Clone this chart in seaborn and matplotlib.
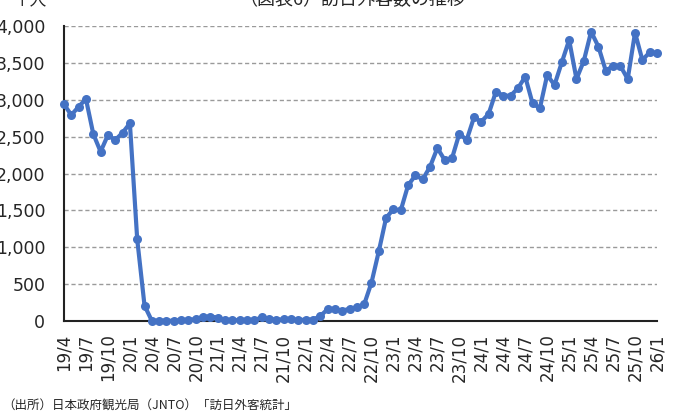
import pandas as pd
import matplotlib
matplotlib.use("Agg")
import matplotlib.pyplot as plt
import seaborn as sns

# monthly visitors to Japan (thousand people), 2019/4 - 2026/1
months = [p.strftime("%y/") + str(p.month) for p in pd.period_range("2019-04", "2026-01", freq="M")]
visitors = [
    2938, 2793, 2906, 3010, 2536, 2296, 2522, 2454, 2553,          # 19/4-19/12
    2680, 1108, 208, 3, 2, 3, 4, 9, 14, 27, 57, 59,                 # 20
    47, 7, 12, 11, 10, 9, 51, 26, 18, 22, 21, 12,                   # 21
    18, 17, 66, 160, 158, 140, 165, 186, 225, 520, 945, 1400,       # 22
    1515, 1500, 1840, 1975, 1921, 2092, 2345, 2183, 2206, 2540, 2454, 2760,  # 23
    2703, 2807, 3110, 3055, 3055, 3155, 3313, 2952, 2884, 3336, 3200, 3508,  # 24
    3810, 3281, 3525, 3923, 3720, 3394, 3458, 3458, 3281, 3910, 3539, 3643,  # 25
    3630,                                                           # 26/1
]
tick_labels = ["19/4", "19/7", "19/10", "20/1", "20/4", "20/7", "20/10",
               "21/1", "21/4", "21/7", "21/10", "22/1", "22/4", "22/7", "22/10",
               "23/1", "23/4", "23/7", "23/10", "24/1", "24/4", "24/7", "24/10",
               "25/1", "25/4", "25/7", "25/10", "26/1"]
y_ticks = [0, 500, 1000, 1500, 2000, 2500, 3000, 3500, 4000]

df = pd.DataFrame({"month": months, "visitors": visitors})
df["pos"] = range(len(df))

sns.set_style("white")
plt.rcParams["font.family"] = ["DejaVu Sans", "Noto Sans CJK JP"]
jp = ["Noto Sans CJK JP", "DejaVu Sans"]

fig = plt.figure(figsize=(6.83, 4.19), dpi=100)
ax = fig.add_axes([64 / 683, 1 - 321 / 419, (657 - 64) / 683, (321 - 26) / 419])

# dashed grid lines
for v in y_ticks[1:]:
    ax.axhline(v, color="#9a9a9a", lw=1.0, ls=(0, (3, 2)), zorder=0)

sns.lineplot(data=df, x="pos", y="visitors", ax=ax, color="#4472c4",
             lw=3.0, marker="o", markersize=6.5, markeredgewidth=0,
             clip_on=False, zorder=3)

ax.set_xlim(0, len(months) - 1)
ax.set_ylim(0, 4000)
ax.set_xticks(df["pos"][::3])
ax.set_xticklabels(tick_labels, rotation=90, fontsize=12)
ax.set_yticks(y_ticks)
ax.set_yticklabels([f"{v:,}" for v in y_ticks], fontsize=12.5)
ax.tick_params(axis="x", direction="in", length=5, width=1.2, color="#222222", pad=9)
ax.tick_params(axis="y", length=0, pad=13.5)
ax.set_xlabel("")
ax.set_ylabel("")

sns.despine(ax=ax, top=True, right=True)
for s in ["left", "bottom"]:
    ax.spines[s].set_color("#222222")
    ax.spines[s].set_linewidth(1.5)

fig.text(352 / 683, 1 - 5 / 419, "（図表6）訪日外客数の推移", ha="center", va="baseline",
         fontsize=13, family=jp)
fig.text(30 / 683, 1 - 5 / 419, "千人", ha="center", va="baseline", fontsize=12, family=jp)
fig.text(2 / 683, 1 - 410 / 419, "（出所）日本政府観光局（JNTO）「訪日外客統計」",
         ha="left", va="baseline", fontsize=9, family=jp)

fig.savefig("out.png", dpi=100)
